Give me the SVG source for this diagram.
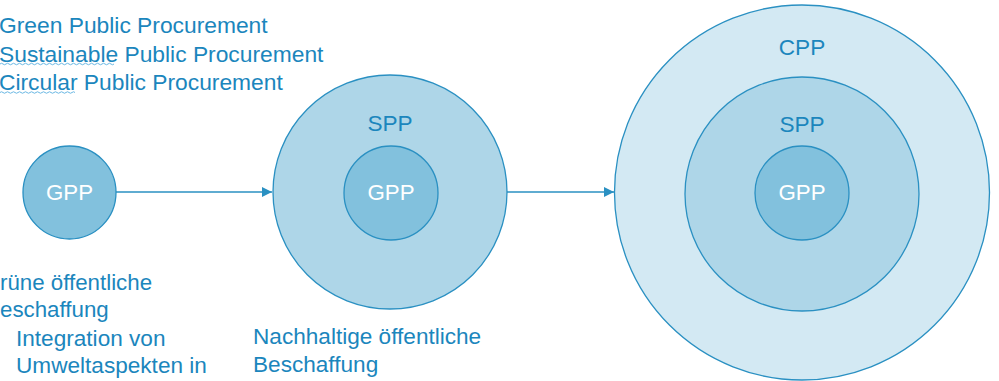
<svg xmlns="http://www.w3.org/2000/svg" width="999" height="381" viewBox="0 0 999 381">
<defs>
<style>
.t{font-family:"Liberation Sans",Arial,sans-serif;font-size:22.6px;fill:#1b86bd}
.lg{font-size:22.8px}
.sm{font-size:22.3px}
.w{font-family:"Liberation Sans",Arial,sans-serif;font-size:22.3px;fill:#ffffff}
.c{stroke:#2a90c2;stroke-width:1.3}
.cpp{fill:#d3e9f3}
.spp{fill:#aed6e8}
.gpp{fill:#82c1dd}
.conn{stroke:#2a90c2;stroke-width:1.3;fill:none}
.sq{stroke:#6ab8e4;stroke-width:1;fill:none}
</style>
<marker id="ah" viewBox="0 0 10 10" refX="10" refY="5" markerWidth="10" markerHeight="10" markerUnits="userSpaceOnUse" orient="auto">
<path d="M0,0 L10,5 L0,10 Z" fill="#2a90c2"/>
</marker>
</defs>
<rect width="999" height="381" fill="#ffffff"/>
<g id="legend">
<text class="t lg" x="-1" y="33">Green Public Procurement</text>
<text class="t lg" x="-1" y="61.5">Sustainable Public Procurement</text>
<text class="t lg" x="-1" y="89.5">Circular Public Procurement</text>
<path class="sq" d="M0,64 q1.5,-1.5 3,0 t3,0 t3,0 t3,0 t3,0 t3,0 t3,0 t3,0 t3,0 t3,0 t3,0 t3,0 t3,0 t3,0 t3,0 t3,0 t3,0 t3,0 t3,0 t3,0 t3,0 t3,0 t3,0 t3,0 t3,0 t3,0 t3,0 t3,0 t3,0 t3,0 t3,0 t3,0 t3,0 t3,0 t3,0 t3,0 t3,0 t3,0"/>
<path class="sq" d="M0,92.5 q1.5,-1.5 3,0 t3,0 t3,0 t3,0 t3,0 t3,0 t3,0 t3,0 t3,0 t3,0 t3,0 t3,0 t3,0 t3,0 t3,0 t3,0 t3,0 t3,0 t3,0 t3,0 t3,0 t3,0 t3,0 t3,0 t3,0"/>
</g>
<g id="connectors">
<line class="conn" x1="116" y1="192" x2="272" y2="192" marker-end="url(#ah)"/>
<line class="conn" x1="507" y1="192" x2="614" y2="192" marker-end="url(#ah)"/>
</g>
<g id="node-gpp">
<circle class="c gpp" cx="69.5" cy="192.5" r="46.5"/>
<text class="w" x="69.5" y="200" text-anchor="middle">GPP</text>
</g>
<g id="node-spp">
<circle class="c spp" cx="390" cy="192" r="117"/>
<text class="t" x="390" y="131" text-anchor="middle">SPP</text>
<circle class="c gpp" cx="391" cy="193" r="47"/>
<text class="w" x="391" y="200" text-anchor="middle">GPP</text>
</g>
<g id="node-cpp">
<circle class="c cpp" cx="802" cy="192.5" r="187.5"/>
<text class="t" x="802" y="54.5" text-anchor="middle">CPP</text>
<circle class="c spp" cx="802" cy="194" r="117"/>
<text class="t" x="802" y="132" text-anchor="middle">SPP</text>
<circle class="c gpp" cx="802" cy="193" r="47"/>
<text class="w" x="802" y="200" text-anchor="middle">GPP</text>
</g>
<g id="label-gpp">
<text class="t sm" x="0" y="290">rüne öffentliche</text>
<text class="t sm" x="0" y="317">eschaffung</text>
<text class="t" x="16" y="346">Integration von</text>
<text class="t" x="16" y="373.3">Umweltaspekten in</text>
</g>
<g id="label-spp">
<text class="t" x="253" y="344">Nachhaltige öffentliche</text>
<text class="t" x="253" y="371.5">Beschaffung</text>
</g>
</svg>
